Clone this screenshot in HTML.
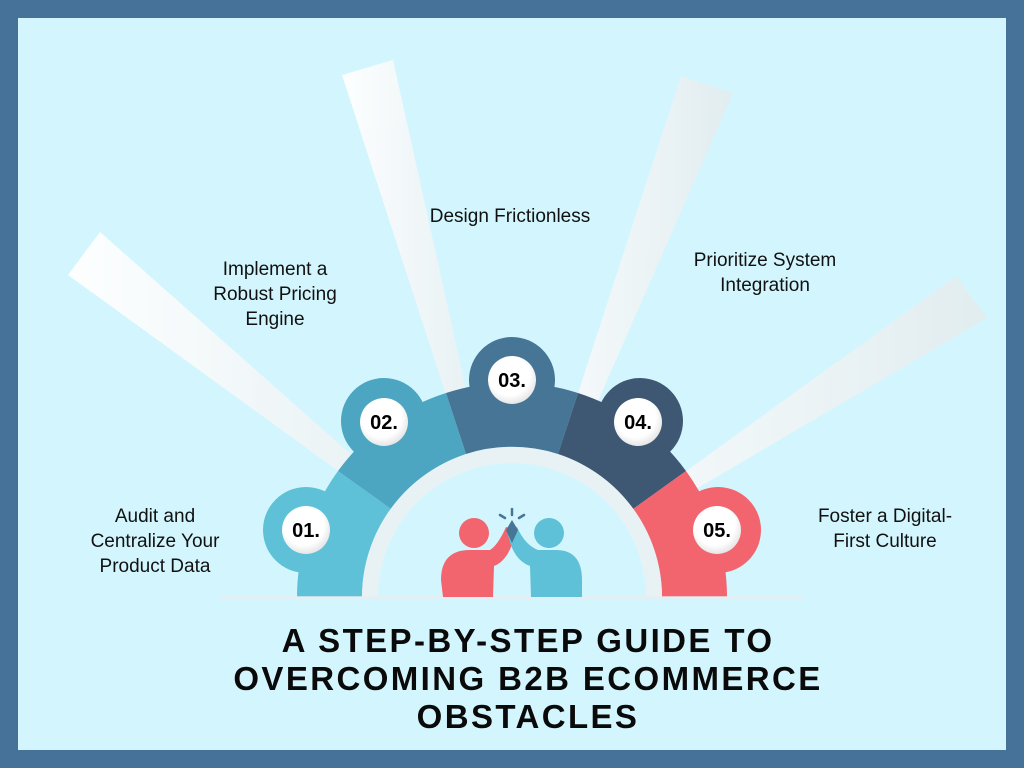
<!DOCTYPE html>
<html><head><meta charset="utf-8"><style>
html,body{margin:0;padding:0}
body{width:1024px;height:768px;background:#46729a;position:relative;overflow:hidden;font-family:"Liberation Sans",sans-serif}
.in{position:absolute;left:18px;top:18px;width:988px;height:732px;background:#d3f6fe}
.lb{position:absolute;font-size:19px;color:#111;text-align:center;line-height:25px}
.t{position:absolute;left:0;width:1056px;top:622px;text-align:center;font-weight:bold;font-size:33px;letter-spacing:2.4px;line-height:38px;color:#0a0a0a}
</style></head><body>
<div class="in"></div>
<svg width="1024" height="768" style="position:absolute;left:0;top:0">
<defs>
<linearGradient id="rg" x1="0" y1="0" x2="1" y2="0"><stop offset="0" stop-color="#ffffff"/><stop offset="1" stop-color="#e2ecef"/></linearGradient>
<radialGradient id="wc" cx="0.45" cy="0.4" r="0.6"><stop offset="0.7" stop-color="#fff"/><stop offset="1" stop-color="#e6e6e6"/></radialGradient>
</defs>
<g fill="url(#rg)" opacity="0.95">
<polygon points="68,275 100,232 512,597"/>
<polygon points="342,75 393,60 512,597"/>
<polygon points="681,76 733,93 512,597"/>
<polygon points="956,276 987,318 512,597"/>
</g>
<g>
<path d="M297,597 A215,215 0 0 1 338,471 L391,509 A150,150 0 0 0 362,597 Z" fill="#5fc1d7"/>
<path d="M338,471 A215,215 0 0 1 446,393 L466,454 A150,150 0 0 0 391,509 Z" fill="#4ca5c1"/>
<path d="M446,393 A215,215 0 0 1 578,393 L558,454 A150,150 0 0 0 466,454 Z" fill="#477596"/>
<path d="M578,393 A215,215 0 0 1 686,471 L633,509 A150,150 0 0 0 558,454 Z" fill="#3e5874"/>
<path d="M686,471 A215,215 0 0 1 727,597 L662,597 A150,150 0 0 0 633,509 Z" fill="#f2646e"/>
<circle cx="306" cy="530" r="43" fill="#5fc1d7"/>
<circle cx="384" cy="421" r="43" fill="#4ca5c1"/>
<circle cx="512" cy="380" r="43" fill="#477596"/>
<circle cx="640" cy="421" r="43" fill="#3e5874"/>
<circle cx="718" cy="530" r="43" fill="#f2646e"/>
<path d="M362,597 A150,150 0 0 1 662,597 L646,597 A134,134 0 0 0 378,597 Z" fill="#e8f2f4"/>
<path d="M378,597 A134,134 0 0 1 646,597 Z" fill="#d3f6fe"/>
<rect x="220" y="596" width="584" height="3" fill="#e6eef0" opacity="0.7"/>
</g>
<g font-family="Liberation Sans,sans-serif" font-weight="bold" font-size="20" text-anchor="middle" fill="#000">
<circle cx="306" cy="530" r="24" fill="url(#wc)"/><text x="306" y="537">01.</text>
<circle cx="384" cy="422" r="24" fill="url(#wc)"/><text x="384" y="429">02.</text>
<circle cx="512" cy="380" r="24" fill="url(#wc)"/><text x="512" y="387">03.</text>
<circle cx="638" cy="422" r="24" fill="url(#wc)"/><text x="638" y="429">04.</text>
<circle cx="717" cy="530" r="24" fill="url(#wc)"/><text x="717" y="537">05.</text>
</g>
<g>
<circle cx="474" cy="533" r="15" fill="#f2646e"/>
<path d="M443,597 L441,580 Q441,550 470,550 L490,550 Q498,545 506,527 L516,530 Q510,560 494,566 L493,597 Z" fill="#f2646e"/>
<circle cx="549" cy="533" r="15" fill="#5fc1d7"/>
<path d="M582,597 L582,580 Q582,550 556,550 L538,550 Q525,545 517,527 L507,530 Q512,560 530,566 L531,597 Z" fill="#5fc1d7"/>
<path d="M512,520 L518,530 L512,543 L506,530 Z" fill="#477596"/>
<g stroke="#477596" stroke-width="2.5" stroke-linecap="round"><line x1="512" y1="509" x2="512" y2="515"/><line x1="500" y1="515" x2="505" y2="518"/><line x1="524" y1="515" x2="519" y2="518"/></g>
</g>
</svg>
<div class="lb" style="left:70px;top:504px;width:170px">Audit and<br>Centralize Your<br>Product Data</div>
<div class="lb" style="left:190px;top:257px;width:170px">Implement a<br>Robust Pricing<br>Engine</div>
<div class="lb" style="left:400px;top:204px;width:220px">Design Frictionless</div>
<div class="lb" style="left:655px;top:248px;width:220px">Prioritize System<br>Integration</div>
<div class="lb" style="left:790px;top:504px;width:190px">Foster a Digital-<br>First Culture</div>
<div class="t">A STEP-BY-STEP GUIDE TO<br>OVERCOMING B2B ECOMMERCE<br>OBSTACLES</div>
</body></html>
